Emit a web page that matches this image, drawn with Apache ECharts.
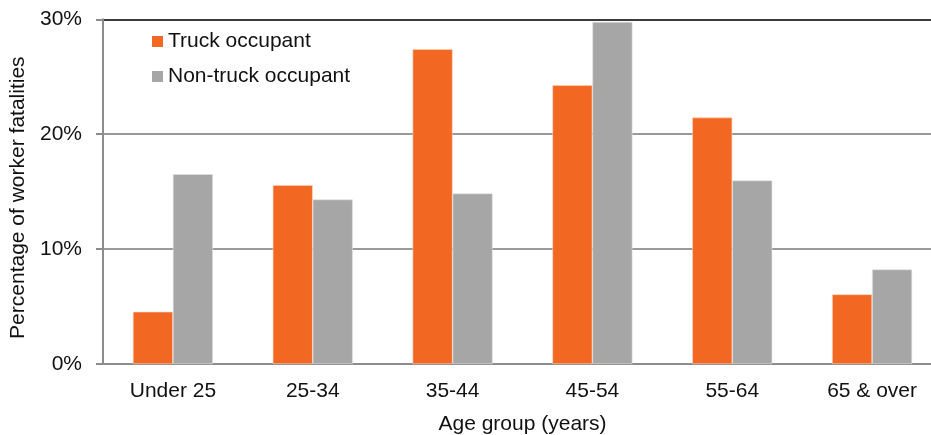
<!DOCTYPE html>
<html>
<head>
<meta charset="utf-8">
<script src="https://cdn.jsdelivr.net/npm/echarts@6/dist/echarts.min.js"></script>
<style>
  html, body { margin: 0; padding: 0; background: #fff; }
  #chart { width: 931px; height: 435px; }
</style>
</head>
<body>
<div id="chart"></div>
<script>
// Age groups along the x axis
const ageGroups = ['Under 25', '25-34', '35-44', '45-54', '55-64', '65 & over'];
// Share of worker fatalities (%) by age group
const truckOccupant = [4.55, 15.57, 27.4, 24.26, 21.45, 6.06];
const nonTruckOccupant = [16.52, 14.32, 14.84, 29.77, 15.97, 8.23];
const seriesNames = ['Truck occupant', 'Non-truck occupant'];

const FONT = '"Liberation Sans", Arial, sans-serif';
const TEXT = '#111111';

const chart = echarts.init(document.getElementById('chart'), null, { renderer: 'canvas' });

chart.setOption({
  animation: false,
  backgroundColor: '#ffffff',
  textStyle: { fontFamily: FONT },
  // fixed plot box; the last category runs past the right edge of the canvas
  grid: { left: 103, width: 839, top: 19.3, bottom: 71, containLabel: false, outerBoundsMode: 'none' },
  legend: {
    orient: 'vertical',
    left: 147,
    top: 26,
    itemWidth: 11,
    itemHeight: 11,
    itemGap: 14,
    icon: 'rect',
    data: seriesNames,
    itemStyle: { borderWidth: 0 },
    textStyle: { fontFamily: FONT, fontSize: 21, color: TEXT, lineHeight: 21 }
  },
  xAxis: {
    type: 'category',
    data: ageGroups,
    name: 'Age group (years)',
    nameLocation: 'middle',
    nameGap: 50,
    nameTextStyle: { fontFamily: FONT, fontSize: 21, color: TEXT },
    axisLine: { show: true, lineStyle: { color: '#8c8c8c', width: 2 } },
    axisTick: { show: false },
    axisLabel: { fontFamily: FONT, fontSize: 21, color: TEXT, margin: 17 }
  },
  yAxis: {
    type: 'value',
    min: 0,
    max: 30,
    interval: 10,
    name: 'Percentage of worker fatalities',
    nameLocation: 'middle',
    nameGap: 66,
    nameTextStyle: { fontFamily: FONT, fontSize: 21, color: TEXT, padding: [0, 12, 0, 0] },
    axisLine: { show: true, lineStyle: { color: '#8c8c8c', width: 2 } },
    axisTick: { show: true, inside: false, length: 7, lineStyle: { color: '#8c8c8c', width: 2 } },
    axisLabel: { fontFamily: FONT, fontSize: 21, color: TEXT, margin: 21, formatter: '{value}%' },
    splitLine: { show: true, lineStyle: { color: ['#9a9a9a', '#9a9a9a', '#9a9a9a', '#3c3c3c'], width: 2 } }
  },
  series: [
    {
      name: seriesNames[0],
      type: 'bar',
      data: truckOccupant,
      barWidth: 40,
      barGap: '0%',
      itemStyle: { color: '#F26722', borderColor: '#fbd7c3', borderWidth: 0.6 }
    },
    {
      name: seriesNames[1],
      type: 'bar',
      data: nonTruckOccupant,
      barWidth: 40,
      barGap: '0%',
      itemStyle: { color: '#A6A6A6', borderColor: '#e2e2e2', borderWidth: 0.6 }
    }
  ]
});
</script>
</body>
</html>
